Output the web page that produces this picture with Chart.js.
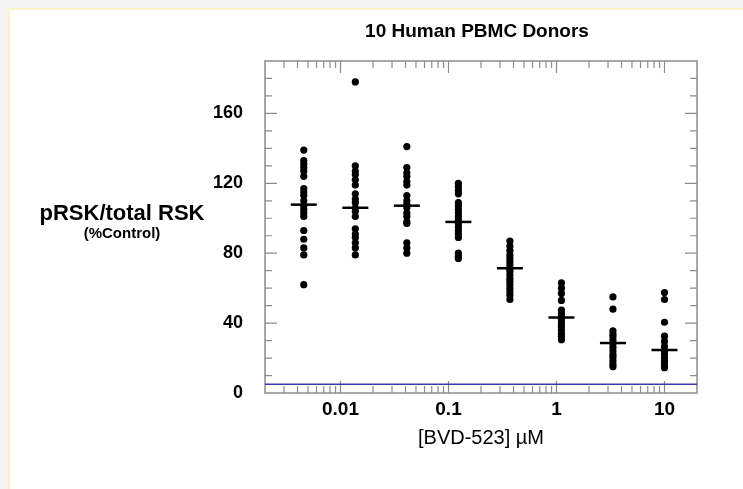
<!DOCTYPE html>
<html><head><meta charset="utf-8">
<script src="https://cdn.jsdelivr.net/npm/chart.js@4.4.1/dist/chart.umd.min.js"></script>
<style>
html,body{margin:0;padding:0;background:#f3f3f3;width:743px;height:489px;overflow:hidden}
#box{position:absolute;left:8px;top:8px;width:760px;height:500px;background:#fff;border:2px solid #fdf3c6;}
#wrap{position:absolute;left:0;top:0;width:743px;height:489px}
</style></head><body>
<div id="box"></div>
<div id="wrap"><canvas id="c" width="743" height="489"></canvas></div>
<script>
// ---- data ----
const title = "10 Human PBMC Donors";
const yLabel1 = "pRSK/total RSK";
const yLabel2 = "(%Control)";
const xLabel = "[BVD-523] \u00B5M";
const doses = [0.004572, 0.01372, 0.04115, 0.1235, 0.3704, 1.111, 3.333, 10];
const c1 = [139, 133, 131, 129, 127, 124, 117, 115, 113, 110, 107, 105, 103, 101, 93, 88, 83, 79, 62];
const c2 = [178, 130, 127, 125, 122, 119, 114, 111, 109, 106, 104, 101, 94, 91, 89, 86, 83, 79];
const c3 = [141, 129, 126, 124, 121, 119, 113, 110, 108, 106, 103, 101, 98, 97, 86, 83, 80];
const c4 = [120, 118, 116, 114, 109, 107, 105, 103, 101, 99, 97, 95, 93, 91, 89, 80, 78, 77];
const c5 = [87, 84, 81.5, 79, 77, 75, 73, 71, 69.5, 67.5, 65.5, 64, 62, 60, 58, 56, 53.5];
const c6 = [63, 60, 57, 53, 47.5, 45.5, 44, 42, 40, 38, 36, 34, 32.5, 30.5];
const c7 = [55, 48, 35.5, 33.5, 32, 30, 28, 26, 24, 22, 20.5, 18.5, 16.5, 15];
const c8 = [57.5, 53.5, 40.5, 32.5, 29.5, 26.5, 24, 22, 20, 18, 16, 14.5];
const means = [107.8, 106, 107.2, 97.9, 71.4, 43.2, 28.6, 24.6];
const baseline = [5];
const xTickVals = [0.01, 0.1, 1, 10];
const xTickLabels = ["0.01", "0.1", "1", "10"];
const yTickVals = [0, 40, 80, 120, 160];
const xRange = [0.002, 20];
const yRange = [0, 190];

// ---- build ----
const cols = [c1, c2, c3, c4, c5, c6, c7, c8];
const pts = [];
cols.forEach((arr, i) => arr.forEach(v => pts.push({x: doses[i], y: v})));
const meanPts = means.map((m, i) => ({x: doses[i], y: m}));
const basePts = [{x: xRange[0], y: baseline[0]}, {x: xRange[1], y: baseline[0]}];

const FONT = '"Liberation Sans", Arial, sans-serif';

const decor = {
  id: 'decor',
  beforeDatasetsDraw(chart) {
    const {ctx, chartArea: a, scales: {x, y}} = chart;
    ctx.save();
    ctx.strokeStyle = '#8c8c8c';
    ctx.lineWidth = 1.5;
    ctx.strokeRect(a.left, a.top, a.right - a.left, a.bottom - a.top);
    ctx.lineWidth = 1.2;
    ctx.beginPath();
    for (let e = -3; e <= 1; e++) {
      for (let k = 1; k <= 9; k++) {
        const v = k * Math.pow(10, e);
        if (v <= xRange[0] || v >= xRange[1]) continue;
        const px = x.getPixelForValue(v);
        const len = k === 1 ? 12 : 7;
        ctx.moveTo(px, a.bottom); ctx.lineTo(px, a.bottom - len);
        ctx.moveTo(px, a.top); ctx.lineTo(px, a.top + len);
      }
    }
    for (let v = 10; v < yRange[1]; v += 10) {
      const py = y.getPixelForValue(v);
      const len = v % 40 === 0 ? 12 : 7;
      ctx.moveTo(a.left, py); ctx.lineTo(a.left + len, py);
      ctx.moveTo(a.right, py); ctx.lineTo(a.right - len, py);
    }
    ctx.stroke();
    ctx.restore();
  },
  afterDraw(chart) {
    const {ctx, chartArea: a} = chart;
    ctx.save();
    ctx.fillStyle = '#000';
    ctx.textAlign = 'center';
    ctx.textBaseline = 'middle';
    ctx.font = 'bold 19px ' + FONT;
    ctx.fillText(title, 477, 32);
    ctx.font = 'bold 22px ' + FONT;
    ctx.fillText(yLabel1, 122, 214);
    ctx.font = 'bold 15px ' + FONT;
    ctx.fillText(yLabel2, 122, 234);
    ctx.font = '20px ' + FONT;
    ctx.fillText(xLabel, 481, 438);
    ctx.restore();
  }
};

new Chart(document.getElementById('c'), {
  data: {
    datasets: [
      {type: 'scatter', data: meanPts, pointStyle: 'line', pointRadius: 13, borderColor: '#000', backgroundColor: '#000', pointBorderWidth: 2.5, borderWidth: 2.5},
      {type: 'scatter', data: pts, pointRadius: 3.6, backgroundColor: '#000', borderColor: '#000', borderWidth: 0},
      {type: 'line', data: basePts, borderColor: '#3a3aa8', borderWidth: 1.3, pointRadius: 0, fill: false}
    ]
  },
  options: {
    responsive: false,
    animation: false,
    events: [],
    layout: {padding: {top: 61, right: 46, bottom: 0, left: 0}},
    plugins: {legend: {display: false}, tooltip: {enabled: false}, title: {display: false}},
    scales: {
      x: {
        type: 'logarithmic', position: 'bottom', min: xRange[0], max: xRange[1],
        grid: {display: false, drawTicks: false}, border: {display: false},
        afterBuildTicks: s => { s.ticks = xTickVals.map(v => ({value: v})); },
        afterFit: s => { s.height = 96; },
        ticks: {padding: 5, color: '#000', font: {family: FONT, size: 19, weight: 'bold'},
          autoSkip: false, maxRotation: 0,
          callback: (v) => { const i = xTickVals.indexOf(v); return i >= 0 ? xTickLabels[i] : ''; }}
      },
      y: {
        type: 'linear', position: 'left', min: yRange[0], max: yRange[1],
        grid: {display: false, drawTicks: false}, border: {display: false},
        afterBuildTicks: s => { s.ticks = yTickVals.map(v => ({value: v})); },
        afterFit: s => { s.width = 265; },
        ticks: {padding: 22, color: '#000', font: {family: FONT, size: 18, weight: 'bold'}}
      }
    }
  },
  plugins: [decor]
});
</script>
</body></html>
